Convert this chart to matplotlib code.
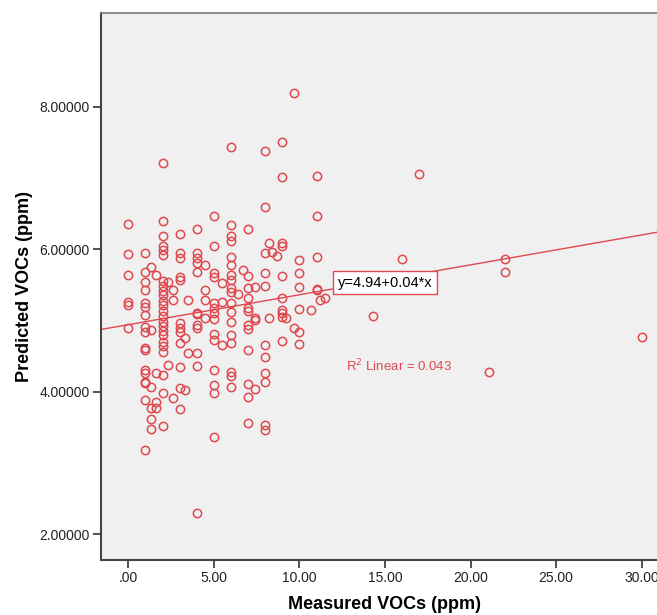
import matplotlib
matplotlib.use("Agg")
import matplotlib.pyplot as plt
import numpy as np

plt.rcParams['font.family'] = ['Liberation Sans', 'DejaVu Sans']

# predicted VOCs, grouped by measured VOCs (ppm)
at_0 = [6.36, 5.93, 5.64, 5.26, 5.22, 4.89]
at_1 = [5.95, 5.68, 5.54, 5.43, 5.24, 5.19, 5.08, 4.91, 4.84, 4.61, 4.58, 4.30, 4.26, 4.14, 4.12, 3.88, 3.18]
at_1_3 = [5.75, 4.87, 4.07, 3.77, 3.62, 3.48]
at_1_6 = [5.64, 4.26, 3.86, 3.77]
at_2 = [7.21, 6.39, 6.19, 6.05, 5.99, 5.92, 5.56, 5.49, 5.41, 5.35, 5.27, 5.21, 5.13, 5.06,
        4.98, 4.92, 4.85, 4.79, 4.70, 4.64, 4.56, 4.23, 3.98, 3.51]
at_2_3 = [5.54, 4.37]
at_2_6 = [5.43, 5.29, 3.91]
at_3 = [6.22, 5.94, 5.87, 5.61, 5.57, 4.96, 4.89, 4.84, 4.68, 4.35, 4.05, 3.75]
at_3_3 = [4.75, 4.02]
at_3_5 = [5.28, 4.54]
at_4 = [6.29, 5.94, 5.87, 5.80, 5.68, 5.11, 5.09, 4.94, 4.89, 4.54, 4.36, 2.30]
at_4_5 = [5.78, 5.43, 5.29, 5.04]
at_5 = [6.46, 6.05, 5.66, 5.61, 5.24, 5.17, 5.11, 5.02, 4.81, 4.73, 4.31, 4.09, 3.98, 3.36]
at_5_5 = [5.52, 5.26, 4.65]
at_6 = [7.43, 6.34, 6.18, 6.12, 5.89, 5.78, 5.64, 5.57, 5.45, 5.40, 5.24, 5.12, 4.98, 4.80,
        4.68, 4.27, 4.22, 4.07]
at_6_4 = [5.37]
at_6_7 = [5.71]
at_7 = [6.28, 5.62, 5.46, 5.32, 5.18, 5.13, 4.94, 4.88, 4.59, 4.10, 3.92, 3.56]
at_7_4 = [5.47, 5.03, 5.01, 4.03]
at_8 = [7.38, 6.59, 5.94, 5.67, 5.48, 4.65, 4.48, 4.26, 4.14, 3.53, 3.46]
at_8_2 = [6.09, 5.03]
at_8_4 = [5.96]
at_8_7 = [5.90]
at_9 = [7.51, 7.02, 6.09, 6.04, 5.62, 5.31, 5.15, 5.10, 5.05, 4.71]
at_9_2 = [5.03]
at_9_7 = [8.20, 4.89]
at_10 = [5.85, 5.67, 5.47, 5.16, 4.83, 4.67]
at_10_7 = [5.14]
at_11 = [7.03, 6.47, 5.89, 5.44, 5.42]
at_11_2 = [5.29]
at_11_5 = [5.31]
outlier_x = [14.3, 16.0, 17.0, 21.1, 22.0, 22.0, 30.0]
outlier_y = [5.06, 5.86, 7.06, 4.28, 5.86, 5.68, 4.76]

groups = [(0.0, at_0), (1.0, at_1), (1.3, at_1_3), (1.6, at_1_6), (2.0, at_2), (2.3, at_2_3),
          (2.6, at_2_6), (3.0, at_3), (3.3, at_3_3), (3.5, at_3_5), (4.0, at_4), (4.5, at_4_5),
          (5.0, at_5), (5.5, at_5_5), (6.0, at_6), (6.4, at_6_4), (6.7, at_6_7), (7.0, at_7),
          (7.4, at_7_4), (8.0, at_8), (8.2, at_8_2), (8.4, at_8_4), (8.7, at_8_7), (9.0, at_9),
          (9.2, at_9_2), (9.7, at_9_7), (10.0, at_10), (10.7, at_10_7), (11.0, at_11),
          (11.2, at_11_2), (11.5, at_11_5)]

measured = []
predicted = []
for xv, ys in groups:
    measured += [xv] * len(ys)
    predicted += ys
measured += outlier_x
predicted += outlier_y

# fit line shown in the chart
intercept = 4.94
slope = 0.042

red = '#E0484F'

fig = plt.figure(figsize=(6.57, 6.15), dpi=100)
ax = fig.add_axes([101 / 657, 1 - 560 / 615, (669 - 101) / 657, (560 - 13) / 615])
ax.set_facecolor('#F0F0F0')

ax.plot(measured, predicted, 'o', ms=6.0, mfc='none', mec=red, mew=1.1, zorder=3)

xmin, xmax = -1.6, 31.6
xl = np.array([xmin, xmax])
ax.plot(xl, intercept + slope * xl, color=red, lw=1.0, zorder=2)

ax.text(15.0, 5.53, 'y=4.94+0.04*x', ha='center', va='center', fontsize=10.5, color='black',
        bbox=dict(boxstyle='square,pad=0.3', fc='white', ec=red, lw=1.0), zorder=4)
ax.text(15.8, 4.36, 'R$^2$ Linear = 0.043', ha='center', va='center', fontsize=9.5, color=red, zorder=4)

ax.set_xlim(xmin, xmax)
ax.set_ylim(1.635, 9.317)
ax.set_xticks([0, 5, 10, 15, 20, 25, 30])
ax.set_xticklabels(['.00', '5.00', '10.00', '15.00', '20.00', '25.00', '30.00'])
ax.set_yticks([2, 4, 6, 8])
ax.set_yticklabels(['2.00000', '4.00000', '6.00000', '8.00000'])
ax.tick_params(axis='both', direction='out', length=6, width=1.2, color='#333333',
               labelsize=10, labelcolor='#222222', pad=2)

for s in ['left', 'bottom']:
    ax.spines[s].set_color('#444444')
    ax.spines[s].set_linewidth(1.5)
ax.spines['top'].set_color('#777777')
ax.spines['top'].set_linewidth(1.2)
ax.spines['right'].set_visible(False)

ax.set_xlabel('Measured VOCs (ppm)', fontsize=13, fontweight='bold', labelpad=8)
ax.set_ylabel('Predicted VOCs (ppm)', fontsize=13, fontweight='bold', labelpad=5)

fig.savefig('out.png', dpi=100)
